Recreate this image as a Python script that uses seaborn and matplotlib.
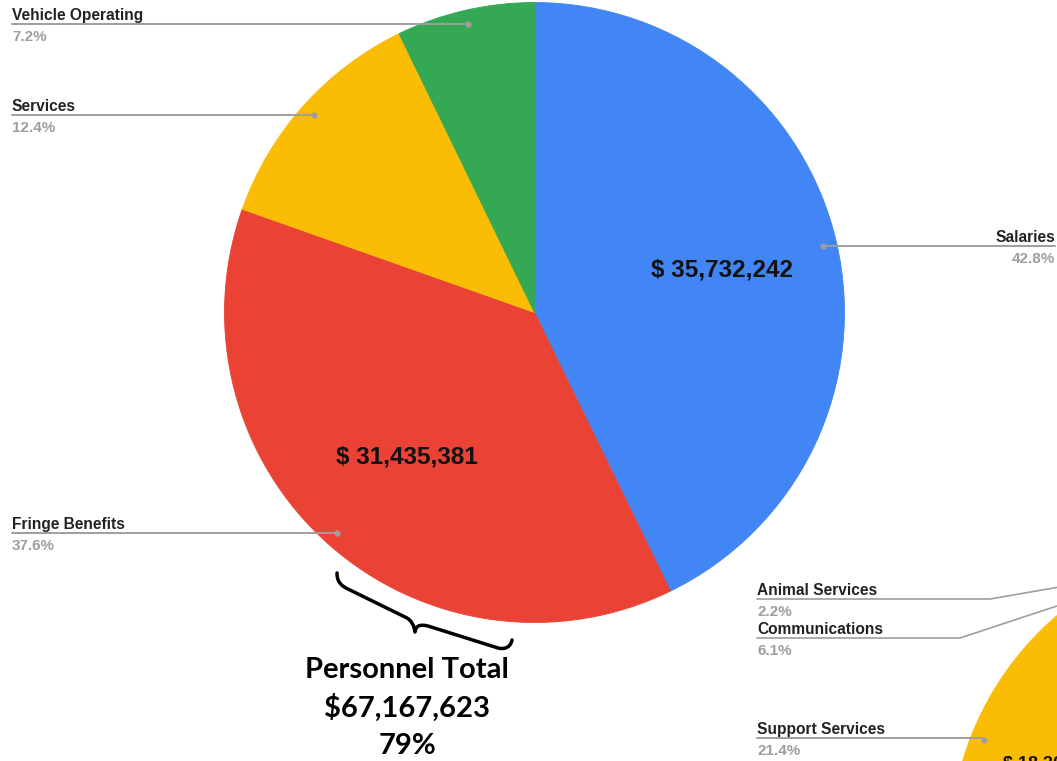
import numpy as np
import matplotlib
matplotlib.use("Agg")
import matplotlib.pyplot as plt
from matplotlib.path import Path
from matplotlib.patches import PathPatch
import seaborn as sns

W, H = 1057, 761

# main pie: expenses
categories = ["Salaries", "Fringe Benefits", "Services", "Vehicle Operating"]
amounts = [35732242, 31435381, 10358000, 6012000]
pct_labels = ["42.8%", "37.6%", "12.4%", "7.2%"]
value_labels = ["$ 35,732,242", "$ 31,435,381", None, None]
colors = ["#4285F4", "#EA4335", "#FBBC04", "#34A853"]

personnel_lines = ["Personnel Total", "$67,167,623", "79%"]

# second pie, only a corner of it is on the canvas
categories2 = ["Other", "Support Services", "Communications", "Animal Services"]
shares2 = [70.3, 21.4, 6.1, 2.2]
pct_labels2 = ["", "21.4%", "6.1%", "2.2%"]
colors2 = ["#4285F4", "#FBBC04", "#34A853", "#FF6D01"]
value_label2 = "$ 18,302"

sns.set_theme(style="white")
plt.rcParams["font.family"] = ["Liberation Sans", "DejaVu Sans"]

NAME_C = "#222222"
PCT_C = "#9E9E9E"
LINE_C = "#9E9E9E"


def iy(y):
    # image row -> data y
    return H - y


fig = plt.figure(figsize=(W / 100, H / 100), dpi=100)
ax = fig.add_axes([0, 0, 1, 1])

wedges, _ = ax.pie(amounts, colors=colors, startangle=90, counterclock=False,
                   center=(534.5, iy(312.5)), radius=310)

wedges2, _ = ax.pie(shares2, colors=colors2, startangle=90, counterclock=False,
                    center=(1256, iy(848)), radius=306)

# hide the antialias seams between slices
for w in list(wedges) + list(wedges2):
    w.set_edgecolor(w.get_facecolor())
    w.set_linewidth(0.6)


def mid_point(w, frac):
    t = np.deg2rad((w.theta1 + w.theta2) / 2)
    cx, cy = w.center
    return cx + frac * w.r * np.cos(t), cy + frac * w.r * np.sin(t)


def label(x, y, name, pct, ha):
    ax.text(x, y + 4, name, ha=ha, va="baseline", fontsize=11.2,
            fontweight="bold", color=NAME_C)
    ax.text(x, y - 6, pct, ha=ha, va="top", fontsize=11,
            fontweight="bold", color=PCT_C)


# main pie labels
for w, name, pct, val in zip(wedges, categories, pct_labels, value_labels):
    dx, dy = mid_point(w, 0.955)
    if dx > w.center[0]:
        ax.plot([dx, 1055], [dy, dy], color=LINE_C, lw=1.4)
        label(1055, dy, name, pct, "right")
    else:
        ax.plot([12, dx], [dy, dy], color=LINE_C, lw=1.4)
        label(12, dy, name, pct, "left")
    ax.plot(dx, dy, "o", ms=4.5, color=LINE_C, mec="none")
    if val:
        vx, vy = mid_point(w, 0.62)
        ax.text(vx, vy - 1, val, ha="center", va="center", fontsize=17.5,
                fontweight="bold", color="#111111")

# second pie labels (left side, stacked)
label_rows2 = {"Support Services": (738, None),
               "Communications": (638, 960),
               "Animal Services": (599, 990)}
for w, name, pct in zip(wedges2, categories2, pct_labels2):
    if name not in label_rows2:
        continue
    row, elbow = label_rows2[name]
    dx, dy = mid_point(w, 0.955)
    ly = iy(row)
    if elbow is None:
        ax.plot([757, dx], [ly, ly], color=LINE_C, lw=1.4)
    else:
        ax.plot([757, elbow, dx], [ly, ly, dy], color=LINE_C, lw=1.2)
    ax.plot(dx, dy, "o", ms=4.5, color=LINE_C, mec="none")
    label(757, ly, name, pct, "left")

ax.text(1003, iy(756), value_label2, ha="left", va="top", fontsize=13,
        fontweight="bold", color="#111111", clip_on=True)

# brace under the personnel slices
pts = [(337, 573), (337, 582), (341, 586), (350, 590),
       (405, 617),
       (412, 620), (414, 626), (415, 632),
       (416, 626), (419, 624), (428, 626),
       (498, 648),
       (506, 650), (511, 646), (512, 640)]
codes = [Path.MOVETO, Path.CURVE4, Path.CURVE4, Path.CURVE4,
         Path.LINETO,
         Path.CURVE4, Path.CURVE4, Path.CURVE4,
         Path.CURVE4, Path.CURVE4, Path.CURVE4,
         Path.LINETO,
         Path.CURVE4, Path.CURVE4, Path.CURVE4]
brace = Path([(x, iy(y)) for x, y in pts], codes)
ax.add_patch(PathPatch(brace, fill=False, lw=2.5, color="black",
                       capstyle="round", joinstyle="round"))

for i, line in enumerate(personnel_lines):
    ax.text(407, iy(670 + 38 * i), line, ha="center", va="center",
            fontsize=21, fontweight="bold", family=["Lato", "DejaVu Sans"],
            color="black")

ax.set_xlim(0, W)
ax.set_ylim(0, H)
ax.set_aspect("equal")
ax.axis("off")

fig.savefig("out.png", dpi=100, facecolor="white")
